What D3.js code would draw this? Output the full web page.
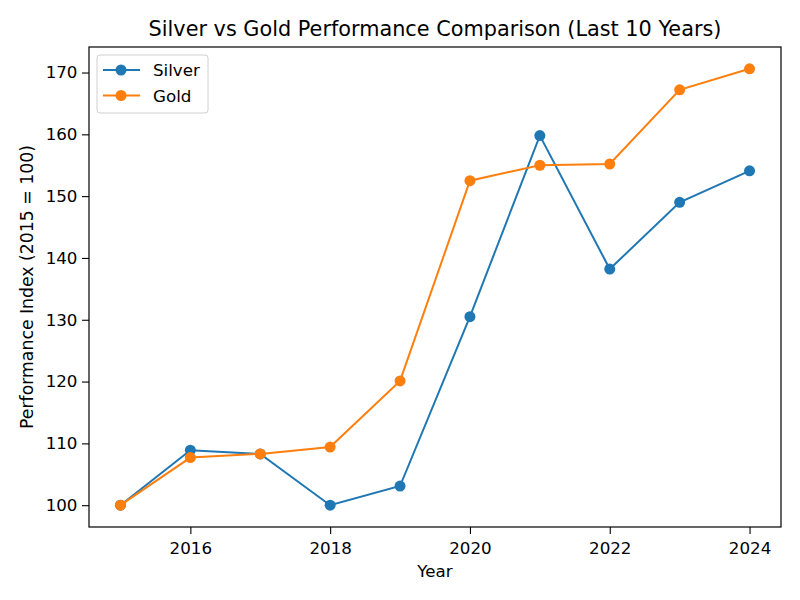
<html>
<head>
<script src="https://d3js.org/d3.v7.min.js"></script>
<style>
  body { margin: 0; background: #fff; }
  text { font-family: "DejaVu Sans", sans-serif; }
</style>
</head>
<body>
<div id="chartContainer"></div>
<script>
  var years = [2015, 2016, 2017, 2018, 2019, 2020, 2021, 2022, 2023, 2024];
  var silver = [100, 108.9, 108.3, 100, 103.1, 130.5, 159.8, 138.2, 149.0, 154.1];
  var gold = [100, 107.7, 108.3, 109.4, 120.1, 152.5, 155.0, 155.2, 167.2, 170.6];
  var xTicks = [2016, 2018, 2020, 2022, 2024];
  var yTicks = [100, 110, 120, 130, 140, 150, 160, 170];

  var series = [
    {name: "Silver", values: silver, color: "#1f77b4"},
    {name: "Gold", values: gold, color: "#ff7f0e"}
  ];

  var W = 800, H = 600;
  // plot box (note: "top" is a reserved window property, so use px names)
  var pxL = 89, pxR = 781, pxT = 47, pxB = 527;
  var fs = 16.7;

  var svg = d3.select("#chartContainer").append("svg")
    .attr("width", W).attr("height", H);

  // matplotlib style 5% margins
  var x = d3.scaleLinear().domain([2014.55, 2024.45]).range([pxL, pxR]);
  var allVals = silver.concat(gold);
  var ymin = d3.min(allVals), ymax = d3.max(allVals), pad = (ymax - ymin) * 0.05;
  var y = d3.scaleLinear().domain([ymin - pad, ymax + pad]).range([pxB, pxT]);

  // axes
  var xAxis = svg.append("g").attr("transform", "translate(0," + pxB + ")")
    .call(d3.axisBottom(x).tickValues(xTicks).tickFormat(d3.format("d")).tickSize(7).tickPadding(8));
  var yAxis = svg.append("g").attr("transform", "translate(" + pxL + ",0)")
    .call(d3.axisLeft(y).tickValues(yTicks).tickSize(7).tickPadding(4.5));
  [xAxis, yAxis].forEach(function (a) {
    a.select(".domain").remove();
    a.selectAll("text").attr("font-size", fs).attr("fill", "#000")
      .style("font-family", "DejaVu Sans");
    a.selectAll("line").attr("stroke", "#000").attr("stroke-width", 1.1);
  });

  // frame
  svg.append("rect").attr("x", pxL).attr("y", pxT)
    .attr("width", pxR - pxL).attr("height", pxB - pxT)
    .attr("fill", "none").attr("stroke", "#000").attr("stroke-width", 1.2);

  var line = d3.line()
    .x(function (d, i) { return x(years[i]); })
    .y(function (d) { return y(d); });

  series.forEach(function (s) {
    svg.append("path").datum(s.values)
      .attr("d", line).attr("fill", "none")
      .attr("stroke", s.color).attr("stroke-width", 2);
    svg.selectAll(null).data(s.values).enter().append("circle")
      .attr("cx", function (d, i) { return x(years[i]); })
      .attr("cy", function (d) { return y(d); })
      .attr("r", 5.5).attr("fill", s.color);
  });

  // title and labels
  svg.append("text").attr("x", (pxL + pxR) / 2).attr("y", 36)
    .attr("text-anchor", "middle").attr("font-size", 20.8)
    .text("Silver vs Gold Performance Comparison (Last 10 Years)");
  svg.append("text").attr("x", (pxL + pxR) / 2).attr("y", 577)
    .attr("text-anchor", "middle").attr("font-size", fs).text("Year");
  svg.append("text")
    .attr("transform", "translate(33," + ((pxT + pxB) / 2) + ") rotate(-90)")
    .attr("text-anchor", "middle").attr("font-size", 17.3)
    .text("Performance Index (2015 = 100)");

  // legend
  var lg = svg.append("g");
  lg.append("rect").attr("x", 97).attr("y", 55).attr("width", 111).attr("height", 58)
    .attr("rx", 3).attr("fill", "#fff").attr("fill-opacity", 0.8)
    .attr("stroke", "#d0d0d0");
  series.forEach(function (s, i) {
    var ly = 70 + i * 25.5;
    lg.append("line").attr("x1", 103).attr("x2", 140).attr("y1", ly).attr("y2", ly)
      .attr("stroke", s.color).attr("stroke-width", 2);
    lg.append("circle").attr("cx", 121).attr("cy", ly).attr("r", 5.5).attr("fill", s.color);
    lg.append("text").attr("x", 153).attr("y", ly + 6).attr("font-size", fs).text(s.name);
  });
</script>
</body>
</html>
